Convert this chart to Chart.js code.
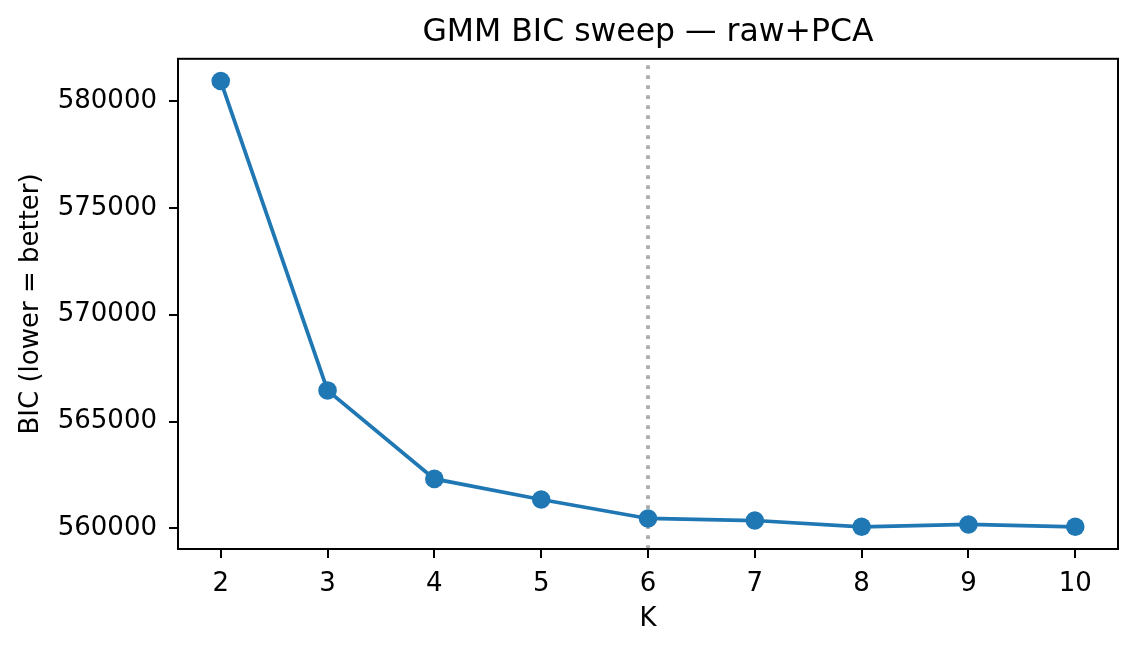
<!DOCTYPE html>
<html>
<head>
<meta charset="utf-8">
<script src="https://cdn.jsdelivr.net/npm/chart.js@4.4.1/dist/chart.umd.min.js"></script>
<style>
  html, body { margin: 0; padding: 0; background: #fff; }
  #wrap { width: 1137px; height: 652px; }
</style>
</head>
<body>
<div id="wrap"><canvas id="bicChart" width="1137" height="652"></canvas></div>
<script>
// GMM BIC values per number of components
const kValues = [2, 3, 4, 5, 6, 7, 8, 9, 10];
const bicValues = [580930, 566457, 562320, 561354, 560467, 560373, 560079, 560187, 560079];
const yTickValues = [560000, 565000, 570000, 575000, 580000];
const chosenK = 6;

const FONT = "'DejaVu Sans', sans-serif";

// frame on all four sides + dotted marker at chosen K
const framePlugin = {
    id: 'frame',
    afterLayout(chart) {
        // centre the title over the plot area, like matplotlib does
        if (chart.titleBlock) {
            chart.titleBlock.left = chart.chartArea.left;
            chart.titleBlock.right = chart.chartArea.right;
        }
    },
    beforeDatasetsDraw(chart) {
        const { ctx, chartArea, scales } = chart;
        const x = scales.x.getPixelForValue(chosenK);
        ctx.save();
        ctx.strokeStyle = '#ababab';
        ctx.lineWidth = 3.75;
        ctx.lineCap = 'butt';
        ctx.setLineDash([3.75, 6.25]);
        ctx.beginPath();
        ctx.moveTo(x, chartArea.bottom);
        ctx.lineTo(x, chartArea.top);
        ctx.stroke();
        ctx.restore();
    },
    afterDraw(chart) {
        const { ctx, chartArea } = chart;
        ctx.save();
        ctx.strokeStyle = '#000';
        ctx.lineWidth = 2;
        ctx.strokeRect(chartArea.left, chartArea.top, chartArea.right - chartArea.left, chartArea.bottom - chartArea.top);
        ctx.restore();
    }
};

new Chart(document.getElementById('bicChart').getContext('2d'), {
    type: 'line',
    data: {
        datasets: [{
            data: kValues.map((k, i) => ({ x: k, y: bicValues[i] })),
            borderColor: '#1f77b4',
            backgroundColor: '#1f77b4',
            borderWidth: 3.75,
            pointRadius: 9.3,
            pointBorderWidth: 0,
            pointBackgroundColor: '#1f77b4',
            tension: 0
        }]
    },
    plugins: [framePlugin],
    options: {
        responsive: false,
        animation: false,
        layout: { padding: { left: 0, right: 19, top: 0, bottom: 0 } },
        plugins: {
            legend: { display: false },
            tooltip: { enabled: false },
            title: {
                display: true,
                text: 'GMM BIC sweep — raw+PCA',
                color: '#000',
                font: { family: FONT, size: 31.5, weight: 'normal' },
                padding: { top: 14, bottom: 7 }
            }
        },
        scales: {
            x: {
                type: 'linear',
                min: 1.6,
                max: 10.4,
                afterBuildTicks: (scale) => { scale.ticks = kValues.map(v => ({ value: v })); },
                afterFit: (scale) => { scale.height = 103; },
                grid: { drawOnChartArea: false, color: '#000', lineWidth: 2, tickLength: 9 },
                border: { display: true, color: '#000', width: 2 },
                ticks: { color: '#000', font: { family: FONT, size: 26 }, padding: 11, maxRotation: 0 },
                title: { display: true, text: 'K', color: '#000', font: { family: FONT, size: 26 }, padding: { top: 4, bottom: 17 } }
            },
            y: {
                min: 559040,
                max: 581970,
                afterBuildTicks: (scale) => { scale.ticks = yTickValues.map(v => ({ value: v })); },
                afterFit: (scale) => { scale.width = 178; },
                grid: { drawOnChartArea: false, color: '#000', lineWidth: 2, tickLength: 9 },
                border: { display: true, color: '#000', width: 2 },
                ticks: { color: '#000', font: { family: FONT, size: 26 }, padding: 12, callback: (v) => String(v) },
                title: { display: true, text: 'BIC (lower = better)', color: '#000', font: { family: FONT, size: 26 }, padding: { top: 16, bottom: 4 } }
            }
        }
    }
});
</script>
</body>
</html>
